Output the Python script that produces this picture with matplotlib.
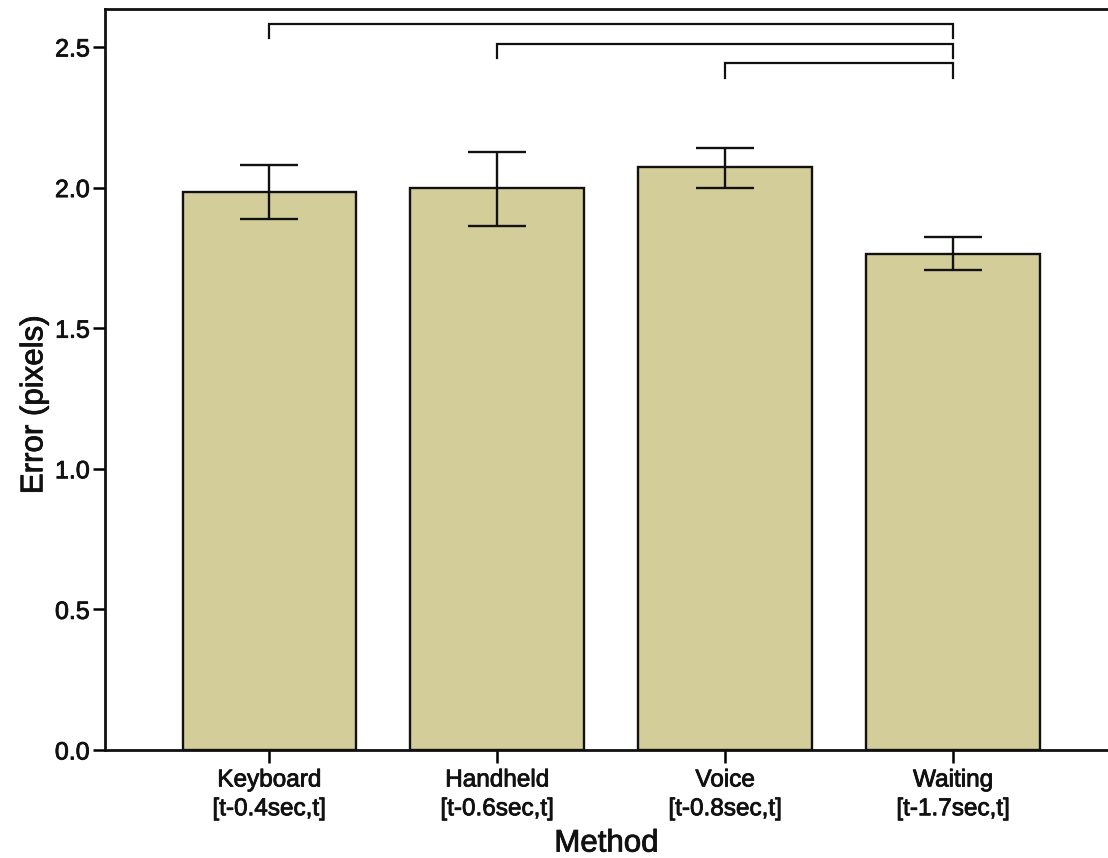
import matplotlib
matplotlib.use("Agg")
import matplotlib.pyplot as plt
import matplotlib.patheffects as pe
import numpy as np

plt.rcParams['font.family'] = ['Liberation Sans', 'DejaVu Sans']

methods = ['Keyboard\n[t-0.4sec,t]', 'Handheld\n[t-0.6sec,t]',
           'Voice\n[t-0.8sec,t]', 'Waiting\n[t-1.7sec,t]']
means = [1.984, 1.997, 2.072, 1.765]
err_low = [1.887, 1.865, 2.000, 1.707]
err_high = [2.081, 2.127, 2.142, 1.826]

# significance brackets: (from bar, to bar, height)
brackets = [(0, 3, 2.583), (1, 3, 2.512), (2, 3, 2.443)]
bracket_drop = 0.052

bar_color = '#d3ce99'
x = np.arange(len(methods))

fig = plt.figure(figsize=(11.08, 8.58), dpi=100)
ax = fig.add_axes([105 / 1108, 108 / 858, 1003 / 1108, 741 / 858])

ax.bar(x, means, width=0.76, color=bar_color, edgecolor='#111111', linewidth=1.7, zorder=2)
yerr = [np.array(means) - np.array(err_low), np.array(err_high) - np.array(means)]
ax.errorbar(x, means, yerr=yerr, fmt='none', ecolor='#111111', elinewidth=1.7,
            capsize=21, capthick=1.7, zorder=3)

for i, j, h in brackets:
    ax.plot([x[i], x[i], x[j], x[j]], [h - bracket_drop, h, h, h - bracket_drop],
            color='#111111', linewidth=1.6, solid_joinstyle='miter', zorder=3)

ax.set_xlim(-0.72, 3.68)
ax.set_ylim(0, 2.635)
ax.set_yticks([0.0, 0.5, 1.0, 1.5, 2.0, 2.5])
ax.set_yticklabels(['0.0', '0.5', '1.0', '1.5', '2.0', '2.5'])
ax.set_xticks(x)
ax.set_xticklabels(methods, fontsize=17.5, linespacing=1.4)
ax.tick_params(axis='y', labelsize=18, length=9, width=1.8, pad=2)
ax.tick_params(axis='x', length=9, width=1.8, pad=5)

for s in ['left', 'bottom', 'top']:
    ax.spines[s].set_linewidth(2.0)
    ax.spines[s].set_color('#111111')
ax.spines['right'].set_visible(False)

ax.set_ylabel('Error (pixels)', fontsize=22.5, labelpad=4)
ax.yaxis.label.set_y(0.466)
ax.set_xlabel('Method', fontsize=22.5, labelpad=6)

# slightly heavier text like the reference rendering
heavy = [pe.withStroke(linewidth=0.6, foreground='#111111')]
for t in ax.get_xticklabels() + ax.get_yticklabels() + [ax.xaxis.label, ax.yaxis.label]:
    t.set_color('#111111')
    t.set_path_effects(heavy)

fig.savefig('out.png', dpi=100)
